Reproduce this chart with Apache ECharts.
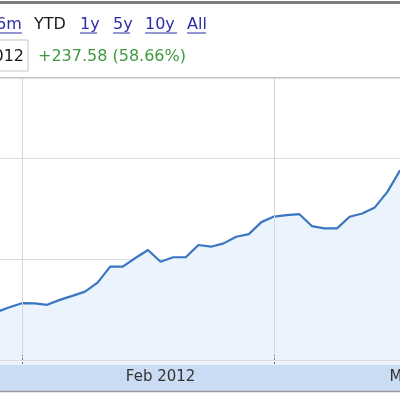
<!DOCTYPE html>
<html>
<head>
<meta charset="utf-8">
<script src="https://cdn.jsdelivr.net/npm/echarts@6/dist/echarts.min.js"></script>
<style>
html,body{margin:0;padding:0;background:#fff;}
#chart{width:400px;height:400px;}
</style>
</head>
<body>
<div id="chart"></div>
<script>
// ---- data ----
var dates = [
  '2012-01-30','2012-01-31',
  '2012-02-01','2012-02-02','2012-02-03','2012-02-06','2012-02-07','2012-02-08','2012-02-09','2012-02-10',
  '2012-02-13','2012-02-14','2012-02-15','2012-02-16','2012-02-17','2012-02-21','2012-02-22','2012-02-23',
  '2012-02-24','2012-02-27','2012-02-28','2012-02-29',
  '2012-03-01','2012-03-02','2012-03-05','2012-03-06','2012-03-07','2012-03-08','2012-03-09','2012-03-12',
  '2012-03-13','2012-03-14','2012-03-15','2012-03-16','2012-03-19','2012-03-20'
];
var prices = [
  447.8, 452.3,
  456.4, 456.2, 454.8, 459.7, 463.7, 467.9, 476.8, 492.7,
  492.7, 501.3, 509.2, 497.6, 502.0, 502.0, 514.2, 512.5,
  515.8, 522.4, 525.0, 536.9,
  542.4, 543.9, 544.9, 533.0, 530.7, 530.7, 542.2, 545.5,
  551.5, 566.9, 588.4, null, null, null
];
var monthStarts = ['2012-02-01', '2012-03-01'];
var monthLabelDates = ['2012-02-16', '2012-03-19'];
var monthLabelTexts = ['Feb 2012', 'Mar 2012'];
var yTicks = { min: 400, max: 680, step: 100 };
var ranges = ['6m', 'YTD', '1y', '5y', '10y', 'All'];
var startLabel = '2012';
var changeText = '+237.58 (58.66%)';

// ---- chart ----
var FONT = '"DejaVu Sans", Verdana, sans-serif';
var LINK = '#2b2fa6';
var chart = echarts.init(document.getElementById('chart'), null, {renderer: 'canvas'});

function isMonthStart(i) { return monthStarts.indexOf(dates[i]) >= 0; }
function isLabel(i) { return monthLabelDates.indexOf(dates[i]) >= 0; }

var rangeX = [-4, 34, 80, 113, 145, 187];
var graphics = [];
graphics.push({type: 'rect', z: -5, shape: {x: 0, y: 1, width: 400, height: 3}, style: {fill: '#7d7d7d'}});
ranges.forEach(function (r, i) {
  var isLink = r !== 'YTD';
  graphics.push({type: 'text', x: rangeX[i], y: 25, style: {text: r, font: '16px ' + FONT, fill: isLink ? LINK : '#1a1a1a', textAlign: 'left', textVerticalAlign: 'middle'}});
});
var ulines = [[-4, 22], [80, 97], [113, 130], [145, 177], [187, 206]];
ulines.forEach(function (u) {
  graphics.push({type: 'line', shape: {x1: u[0], y1: 33, x2: u[1], y2: 33}, style: {stroke: LINK, lineWidth: 1}});
});
graphics.push({type: 'rect', shape: {x: -10, y: 40, width: 38, height: 31}, style: {fill: '#fff', stroke: '#c4c4c4', lineWidth: 1}});
graphics.push({type: 'text', x: 24, y: 57, style: {text: startLabel, font: '16px ' + FONT, fill: '#1a1a1a', textAlign: 'right', textVerticalAlign: 'middle'}});
graphics.push({type: 'text', x: 38, y: 57, style: {text: changeText, font: '16px ' + FONT, fill: '#3f9a3f', textAlign: 'left', textVerticalAlign: 'middle'}});
graphics.push({type: 'line', shape: {x1: 0, y1: 78, x2: 400, y2: 78}, style: {stroke: '#c6c6c6', lineWidth: 2}});
graphics.push({type: 'rect', z: -5, shape: {x: 0, y: 360, width: 400, height: 5}, style: {fill: '#ebf4fc'}});
graphics.push({type: 'rect', z: -5, shape: {x: 0, y: 365, width: 400, height: 26}, style: {fill: '#c9dcf3'}});
graphics.push({type: 'line', shape: {x1: 0, y1: 391.5, x2: 400, y2: 391.5}, style: {stroke: '#9a9a9a', lineWidth: 1.5}});

var option = {
  animation: false,
  backgroundColor: '#fff',
  grid: {left: -3.2, right: -37.8, top: 78, bottom: 40, outerBoundsMode: 'none'},
  xAxis: {
    type: 'category',
    data: dates,
    boundaryGap: false,
    z: 10,
    offset: 4,
    axisLine: {show: false},
    axisTick: {show: true, inside: true, interval: function (i) { return isMonthStart(i); }, length: 9, lineStyle: {color: '#7a7a7a', type: [2, 2], width: 1}},
    splitLine: {show: true, interval: function (i) { return isMonthStart(i); }, lineStyle: {color: '#d6d6d6', width: 1}},
    axisLabel: {
      interval: function (i) { return isLabel(i); },
      formatter: function (v) { var k = monthLabelDates.indexOf(v); return k >= 0 ? monthLabelTexts[k] : ''; },
      color: '#333', fontFamily: FONT, fontSize: 15, margin: 6
    }
  },
  yAxis: {
    type: 'value',
    min: yTicks.min, max: yTicks.max, interval: yTicks.step,
    axisLine: {show: false}, axisTick: {show: false}, axisLabel: {show: false},
    splitLine: {show: true, lineStyle: {color: '#dcdcdc', width: 1}}
  },
  series: [{
    type: 'line',
    data: prices,
    showSymbol: false,
    symbol: 'none',
    lineStyle: {color: '#3a76c2', width: 2.2},
    areaStyle: {color: '#ebf4fc', opacity: 1},
    z: 3
  }],
  graphic: graphics
};
chart.setOption(option);
</script>
</body>
</html>
